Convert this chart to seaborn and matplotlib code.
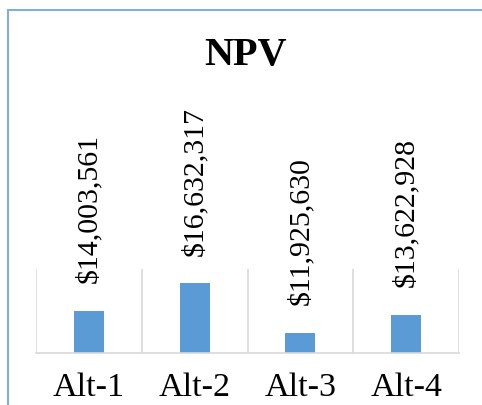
import matplotlib
matplotlib.use("Agg")
import matplotlib.pyplot as plt
import seaborn as sns
import pandas as pd
from matplotlib.patches import Rectangle
from matplotlib.ticker import FixedLocator

categories = ["Alt-1", "Alt-2", "Alt-3", "Alt-4"]
npv_values = [14003561, 16632317, 11925630, 13622928]
value_labels = ["$14,003,561", "$16,632,317", "$11,925,630", "$13,622,928"]
title_text = "NPV"

sns.set_theme(style="white")
plt.rcParams['font.family'] = ['Liberation Serif', 'DejaVu Serif']

W, H = 482, 405
fig = plt.figure(figsize=(W / 100, H / 100), dpi=100)
ax = fig.add_axes([36 / W, 1 - 353 / H, (459 - 36) / W, (353 - 269) / H])

df = pd.DataFrame({"cat": categories, "npv": npv_values})
sns.barplot(data=df, x="cat", y="npv", color="#5B9BD5", saturation=1,
            width=0.284, ax=ax, edgecolor="none")

ax.set_ylim(10e6, 18e6)
ax.set_xlim(-0.5, 3.5)
ax.set_xlabel("")
ax.set_ylabel("")
ax.set_yticks([])

ax.xaxis.set_minor_locator(FixedLocator([-0.5, 0.5, 1.5, 2.5, 3.5]))
ax.grid(False)
ax.grid(True, which="minor", axis="x", color="#D9D9D9", linewidth=1.2)
ax.tick_params(axis="x", which="both", length=0, pad=14, labelsize=24.5,
               labelcolor="black")
for spine in ["top", "right", "left"]:
    ax.spines[spine].set_visible(False)
ax.spines["bottom"].set_color("#D9D9D9")
ax.spines["bottom"].set_linewidth(1.2)

for i, (v, lab) in enumerate(zip(npv_values, value_labels)):
    ax.annotate(lab, xy=(i, v), xytext=(0, 20), textcoords="offset points",
                rotation=90, ha="center", va="bottom", fontsize=21.5,
                color="black", annotation_clip=False)

fig.text(246 / W, 1 - 65 / H, title_text, ha="center", va="baseline",
         fontsize=29, fontweight="bold", color="black")

border = Rectangle((7.5 / W, -0.1), 1.2, 1 - 10 / H + 0.1,
                   transform=fig.transFigure, fill=False,
                   edgecolor="#7FAEDF", linewidth=1.5, clip_on=False)
fig.add_artist(border)

fig.savefig("out.png", dpi=100)
